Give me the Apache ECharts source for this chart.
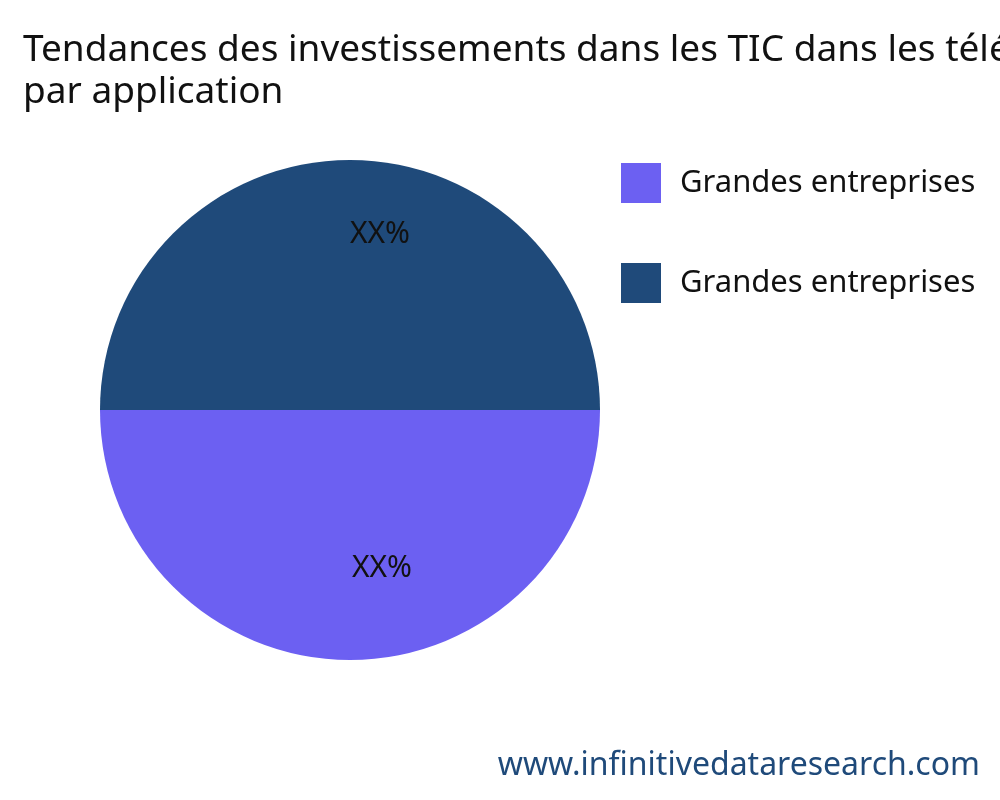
<!DOCTYPE html>
<html><head><meta charset="utf-8">
<script src="https://cdn.jsdelivr.net/npm/echarts@6/dist/echarts.min.js"></script>
<style>html,body{margin:0;padding:0;background:#fff}#chart{width:1000px;height:800px}</style>
</head><body><div id="chart"></div>
<script>
const chart = echarts.init(document.getElementById("chart"));

const TITLE = "Tendances des investissements dans les TIC dans les télécommunications\npar application";
// second name has a trailing space so the legend keeps both entries
const categories = ["Grandes entreprises", "Grandes entreprises "];
const values = [50, 50];
const labels = ["XX%", "XX%"];
const colors = ["#6C60F2", "#1F4A7A"];
const labelOffsets = [[32, 30], [30, -48]];

chart.setOption({
  animation: false,
  textStyle: { fontFamily: "Noto Sans" },
  title: {
    text: TITLE,
    left: 18, top: 24,
    textStyle: { fontSize: 37, fontWeight: "normal", color: "#111", lineHeight: 42, fontFamily: "Noto Sans" }
  },
  legend: {
    orient: "vertical",
    left: 616, top: 158,
    itemWidth: 40, itemHeight: 40, itemGap: 60,
    icon: "rect",
    textStyle: { fontSize: 31, color: "#111", padding: [0, 0, 0, 14] },
    data: categories.map((c, i) => ({ name: c, itemStyle: { color: colors[i] } }))
  },
  graphic: [{
    type: "text", right: 20, top: 750,
    style: { text: "www.infinitivedataresearch.com", fontSize: 32, fill: "#1F4A7A", fontFamily: "Noto Sans" }
  }],
  series: [{
    type: "pie",
    center: [350, 410],
    radius: 250,
    startAngle: 0,
    clockwise: true,
    label: { show: true, position: "inside", fontSize: 30, color: "#111" },
    labelLine: { show: false },
    data: values.map((v, i) => ({
      value: v,
      name: categories[i],
      itemStyle: { color: colors[i] },
      label: { formatter: labels[i], offset: labelOffsets[i] }
    }))
  }]
});
</script></body></html>
